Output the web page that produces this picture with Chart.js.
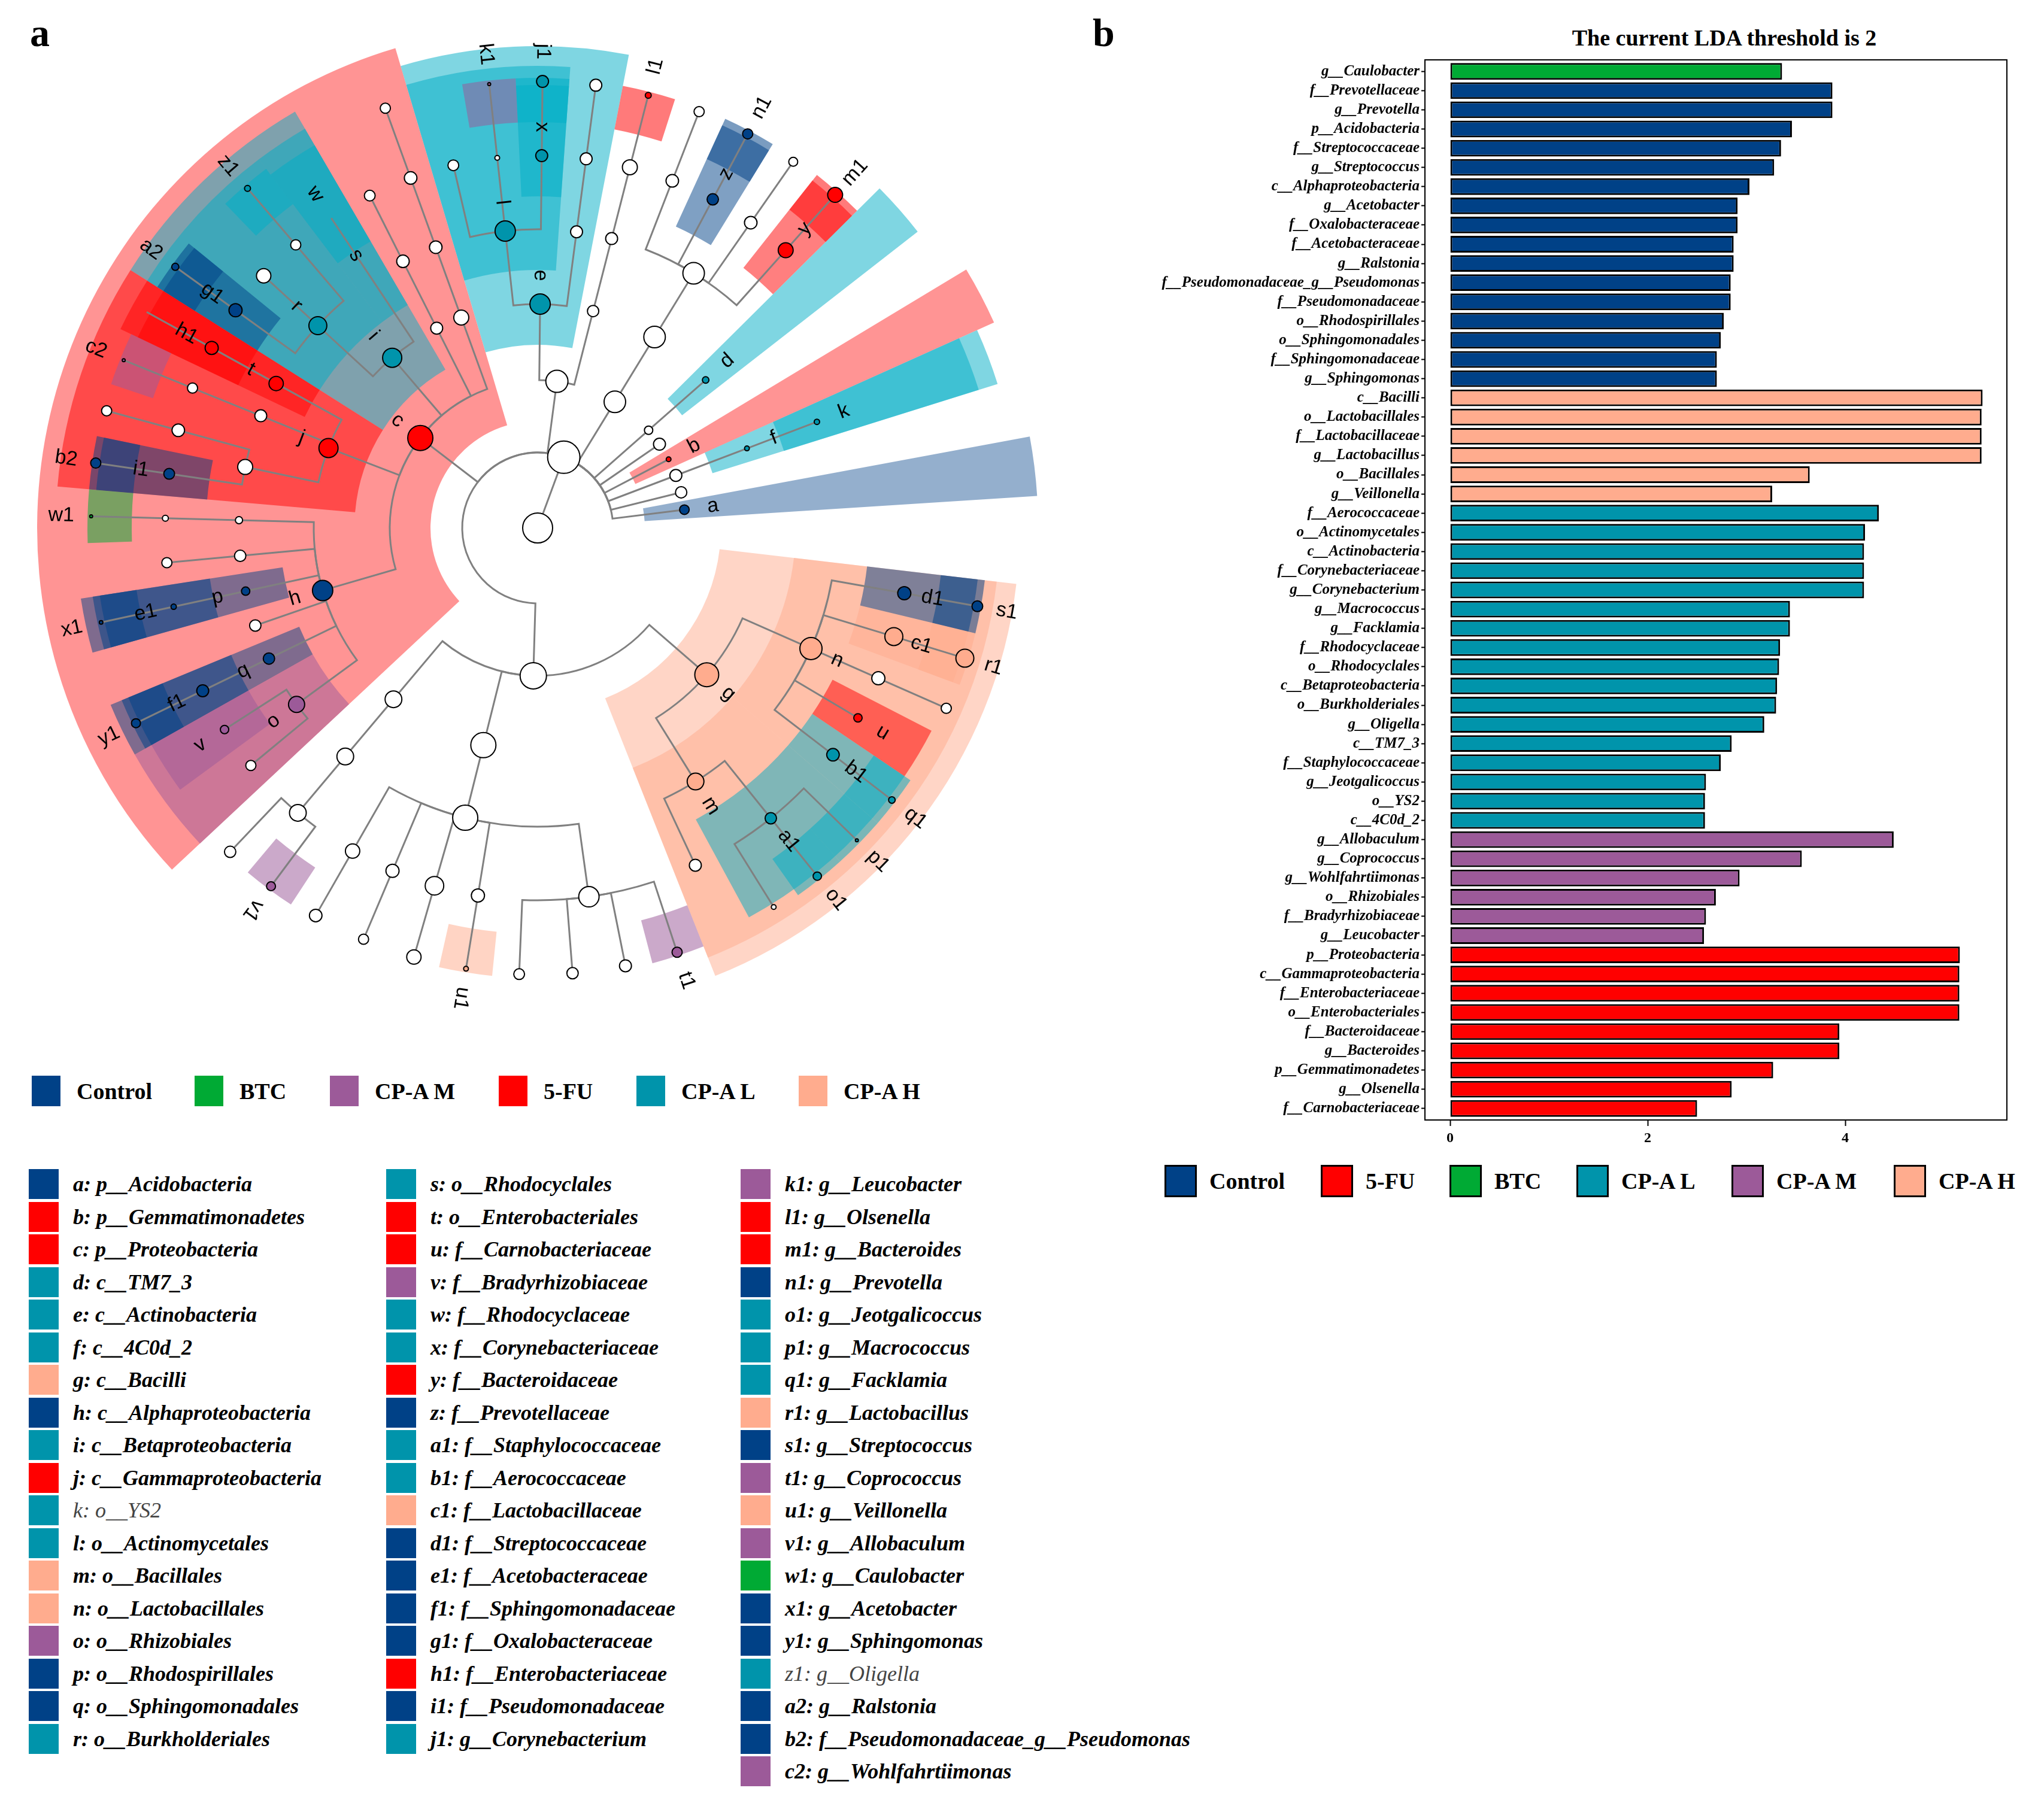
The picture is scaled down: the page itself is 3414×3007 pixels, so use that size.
<!DOCTYPE html>
<html lang="en">
<head>
<meta charset="UTF-8">
<title>LEfSe cladogram and LDA scores</title>
<script src="https://cdn.jsdelivr.net/npm/chart.js"></script>
<style>
  body { margin: 0; background: #fff; }
  #page { position: relative; width: 3414px; height: 3007px; background: #fff; overflow: hidden;
          font-family: "Liberation Serif", "Times New Roman", serif; color: #000; }
  .abs { position: absolute; white-space: nowrap; }
  .panel { font-weight: bold; font-size: 66px; line-height: 66px; }
  .grp { font-weight: bold; font-size: 38px; line-height: 50px; height: 50px; }
  .tx { font-weight: bold; font-style: italic; font-size: 36px; line-height: 50px; height: 50px; }
  .tx.light { font-weight: normal; color: #444; }
</style>
<script>
// groups and their colours
const groupNames = ['Control', 'BTC', 'CP-A M', '5-FU', 'CP-A L', 'CP-A H'];
const groupColors = ['#004187', '#00AA34', '#9C5A99', '#FF0000', '#0094AB', '#FFAC8E'];
const shadeColors = ['#004187', '#00AA34', '#9C5A99', '#FF0000', '#00AEC6', '#FFAC8E'];
const ldaLegendOrder = ['Control', '5-FU', 'BTC', 'CP-A L', 'CP-A M', 'CP-A H'];

// panel b: LDA scores
const ldaLabels = ['g__Caulobacter', 'f__Prevotellaceae', 'g__Prevotella', 'p__Acidobacteria',
  'f__Streptococcaceae', 'g__Streptococcus', 'c__Alphaproteobacteria', 'g__Acetobacter',
  'f__Oxalobacteraceae', 'f__Acetobacteraceae', 'g__Ralstonia', 'f__Pseudomonadaceae_g__Pseudomonas',
  'f__Pseudomonadaceae', 'o__Rhodospirillales', 'o__Sphingomonadales', 'f__Sphingomonadaceae',
  'g__Sphingomonas', 'c__Bacilli', 'o__Lactobacillales', 'f__Lactobacillaceae', 'g__Lactobacillus',
  'o__Bacillales', 'g__Veillonella', 'f__Aerococcaceae', 'o__Actinomycetales', 'c__Actinobacteria',
  'f__Corynebacteriaceae', 'g__Corynebacterium', 'g__Macrococcus', 'g__Facklamia', 'f__Rhodocyclaceae',
  'o__Rhodocyclales', 'c__Betaproteobacteria', 'o__Burkholderiales', 'g__Oligella', 'c__TM7_3',
  'f__Staphylococcaceae', 'g__Jeotgalicoccus', 'o__YS2', 'c__4C0d_2', 'g__Allobaculum', 'g__Coprococcus',
  'g__Wohlfahrtiimonas', 'o__Rhizobiales', 'f__Bradyrhizobiaceae', 'g__Leucobacter', 'p__Proteobacteria',
  'c__Gammaproteobacteria', 'f__Enterobacteriaceae', 'o__Enterobacteriales', 'f__Bacteroidaceae',
  'g__Bacteroides', 'p__Gemmatimonadetes', 'g__Olsenella', 'f__Carnobacteriaceae'];
const ldaValues = [3.36, 3.87, 3.87, 3.46, 3.35, 3.28, 3.03, 2.91, 2.91, 2.87, 2.87, 2.84, 2.84, 2.77,
  2.74, 2.70, 2.70, 5.39, 5.38, 5.38, 5.38, 3.64, 3.26, 4.34, 4.20, 4.19, 4.19, 4.19, 3.44, 3.44, 3.34,
  3.33, 3.31, 3.30, 3.18, 2.85, 2.74, 2.59, 2.58, 2.58, 4.49, 3.56, 2.93, 2.69, 2.59, 2.57, 5.16, 5.155,
  5.155, 5.155, 3.94, 3.94, 3.27, 2.85, 2.50];
const ldaGroups = ['BTC',
  'Control', 'Control', 'Control', 'Control', 'Control', 'Control', 'Control', 'Control',
  'Control', 'Control', 'Control', 'Control', 'Control', 'Control', 'Control', 'Control',
  'CP-A H', 'CP-A H', 'CP-A H', 'CP-A H', 'CP-A H', 'CP-A H',
  'CP-A L', 'CP-A L', 'CP-A L', 'CP-A L', 'CP-A L', 'CP-A L', 'CP-A L', 'CP-A L', 'CP-A L',
  'CP-A L', 'CP-A L', 'CP-A L', 'CP-A L', 'CP-A L', 'CP-A L', 'CP-A L', 'CP-A L',
  'CP-A M', 'CP-A M', 'CP-A M', 'CP-A M', 'CP-A M', 'CP-A M',
  '5-FU', '5-FU', '5-FU', '5-FU', '5-FU', '5-FU', '5-FU', '5-FU', '5-FU'];
const ldaTicks = [0, 2, 4];

// panel a: taxonomy tree [name, parent, letter, group, abundance]
const cladeNodes = [
  ['root', null, '', '', 25],
  ['k__Bacteria', 'root', '', '', 27],
  ['p__Acidobacteria', 'k__Bacteria', 'a', 'Control', 8],
  ['p__other14', 'k__Bacteria', '', '', 9.5],
  ['p__Cyanobacteria', 'k__Bacteria', '', '', 10],
  ['c__4C0d_2', 'p__Cyanobacteria', 'f', 'CP-A L', 4],
  ['o__YS2', 'c__4C0d_2', 'k', 'CP-A L', 4.5],
  ['p__Gemmatimonadetes', 'k__Bacteria', 'b', '5-FU', 4],
  ['p__other35', 'k__Bacteria', '', '', 10],
  ['p__TM7', 'k__Bacteria', '', '', 7],
  ['c__TM7_3', 'p__TM7', 'd', 'CP-A L', 5.5],
  ['p__Bacteroidetes', 'k__Bacteria', '', '', 18],
  ['c__Bacteroidia', 'p__Bacteroidetes', '', '', 18],
  ['o__Bacteroidales', 'c__Bacteroidia', '', '', 18],
  ['f__Bacteroidaceae', 'o__Bacteroidales', 'y', '5-FU', 12.5],
  ['g__Bacteroides', 'f__Bacteroidaceae', 'm1', '5-FU', 12.5],
  ['f__other55', 'o__Bacteroidales', '', '', 10.5],
  ['g__other55', 'f__other55', '', '', 7.5],
  ['f__Prevotellaceae', 'o__Bacteroidales', 'z', 'Control', 9.5],
  ['g__Prevotella', 'f__Prevotellaceae', 'n1', 'Control', 8.5],
  ['f__other69', 'o__Bacteroidales', '', '', 10.5],
  ['g__other69', 'f__other69', '', '', 8.5],
  ['p__Actinobacteria', 'k__Bacteria', '', '', 18.5],
  ['c__Coriobacteriia', 'p__Actinobacteria', '', '', 9.5],
  ['o__Coriobacteriales', 'c__Coriobacteriia', '', '', 10],
  ['f__Coriobacteriaceae', 'o__Coriobacteriales', '', '', 12.5],
  ['g__Olsenella', 'f__Coriobacteriaceae', 'l1', '5-FU', 5],
  ['c__Actinobacteria', 'p__Actinobacteria', 'e', 'CP-A L', 17],
  ['o__other83', 'c__Actinobacteria', '', '', 10],
  ['f__other83', 'o__other83', '', '', 10],
  ['g__other83', 'f__other83', '', '', 10],
  ['o__Actinomycetales', 'c__Actinobacteria', 'l', 'CP-A L', 17],
  ['f__Corynebacteriaceae', 'o__Actinomycetales', 'x', 'CP-A L', 10],
  ['g__Corynebacterium', 'f__Corynebacteriaceae', 'j1', 'CP-A L', 10],
  ['f__Microbacteriaceae', 'o__Actinomycetales', '', '', 4],
  ['g__Leucobacter', 'f__Microbacteriaceae', 'k1', 'CP-A M', 2.5],
  ['f__other103', 'o__Actinomycetales', '', '', 9],
  ['p__Proteobacteria', 'k__Bacteria', 'c', '5-FU', 21],
  ['c__other110', 'p__Proteobacteria', '', '', 12.5],
  ['o__other110', 'c__other110', '', '', 10.5],
  ['f__other110', 'o__other110', '', '', 10.5],
  ['g__other110', 'f__other110', '', '', 8.5],
  ['c__other117', 'p__Proteobacteria', '', '', 10],
  ['o__other117', 'c__other117', '', '', 10.5],
  ['f__other117', 'o__other117', '', '', 9],
  ['c__Betaproteobacteria', 'p__Proteobacteria', 'i', 'CP-A L', 16],
  ['o__Rhodocyclales', 'c__Betaproteobacteria', 's', 'CP-A L', 0],
  ['f__Rhodocyclaceae', 'o__Rhodocyclales', 'w', 'CP-A L', 0],
  ['o__Burkholderiales', 'c__Betaproteobacteria', 'r', 'CP-A L', 15],
  ['f__Alcaligenaceae', 'o__Burkholderiales', '', '', 8.5],
  ['g__Oligella', 'f__Alcaligenaceae', 'z1', 'CP-A L', 5],
  ['f__other137', 'o__Burkholderiales', '', '', 12],
  ['f__Oxalobacteraceae', 'o__Burkholderiales', 'g1', 'Control', 11],
  ['g__Ralstonia', 'f__Oxalobacteraceae', 'a2', 'Control', 6],
  ['c__Gammaproteobacteria', 'p__Proteobacteria', 'j', '5-FU', 16],
  ['o__Enterobacteriales', 'c__Gammaproteobacteria', 't', '5-FU', 12],
  ['f__Enterobacteriaceae', 'o__Enterobacteriales', 'h1', '5-FU', 11],
  ['g__other151', 'f__Enterobacteriaceae', '', '', 0],
  ['o__Cardiobacteriales', 'c__Gammaproteobacteria', '', '', 10],
  ['f__Wohlfahrtiimonadaceae', 'o__Cardiobacteriales', '', '', 8.5],
  ['g__Wohlfahrtiimonas', 'f__Wohlfahrtiimonadaceae', 'c2', 'CP-A M', 2.5],
  ['o__Pseudomonadales', 'c__Gammaproteobacteria', '', '', 12.5],
  ['f__Moraxellaceae', 'o__Pseudomonadales', '', '', 10.5],
  ['g__other165', 'f__Moraxellaceae', '', '', 8.5],
  ['f__Pseudomonadaceae', 'o__Pseudomonadales', 'i1', 'Control', 9],
  ['f__Pseudomonadaceae_g__Pseudomonas', 'f__Pseudomonadaceae', 'b2', 'Control', 8.5],
  ['c__Alphaproteobacteria', 'p__Proteobacteria', 'h', 'Control', 17],
  ['o__Caulobacterales', 'c__Alphaproteobacteria', '', '', 6],
  ['f__Caulobacteraceae', 'o__Caulobacterales', '', '', 5],
  ['g__Caulobacter', 'f__Caulobacteraceae', 'w1', 'BTC', 2.5],
  ['o__other185', 'c__Alphaproteobacteria', '', '', 9.5],
  ['f__other185', 'o__other185', '', '', 8.5],
  ['o__Rhodospirillales', 'c__Alphaproteobacteria', 'p', 'Control', 7],
  ['f__Acetobacteraceae', 'o__Rhodospirillales', 'e1', 'Control', 4.5],
  ['g__Acetobacter', 'f__Acetobacteraceae', 'x1', 'Control', 3],
  ['o__other199', 'c__Alphaproteobacteria', '', '', 9.5],
  ['o__Sphingomonadales', 'c__Alphaproteobacteria', 'q', 'Control', 9.5],
  ['f__Sphingomonadaceae', 'o__Sphingomonadales', 'f1', 'Control', 10],
  ['g__Sphingomonas', 'f__Sphingomonadaceae', 'y1', 'Control', 7.5],
  ['o__Rhizobiales', 'c__Alphaproteobacteria', 'o', 'CP-A M', 13.5],
  ['f__Bradyrhizobiaceae', 'o__Rhizobiales', 'v', 'CP-A M', 7],
  ['f__other219', 'o__Rhizobiales', '', '', 8.5],
  ['p__Firmicutes', 'k__Bacteria', '', '', 22],
  ['c__Erysipelotrichi', 'p__Firmicutes', '', '', 14],
  ['o__Erysipelotrichales', 'c__Erysipelotrichi', '', '', 14],
  ['f__Erysipelotrichaceae', 'o__Erysipelotrichales', '', '', 14],
  ['g__other226', 'f__Erysipelotrichaceae', '', '', 9.5],
  ['g__Allobaculum', 'f__Erysipelotrichaceae', 'v1', 'CP-A M', 7.5],
  ['c__Clostridia', 'p__Firmicutes', '', '', 21],
  ['o__Clostridiales', 'c__Clostridia', '', '', 21],
  ['f__other240', 'o__Clostridiales', '', '', 12],
  ['g__other240', 'f__other240', '', '', 10.5],
  ['f__other247', 'o__Clostridiales', '', '', 11],
  ['g__other247', 'f__other247', '', '', 8.5],
  ['f__other254', 'o__Clostridiales', '', '', 15.5],
  ['g__other254', 'f__other254', '', '', 12],
  ['f__Veillonellaceae', 'o__Clostridiales', '', '', 11],
  ['g__Veillonella', 'f__Veillonellaceae', 'u1', 'CP-A H', 4],
  ['f__Lachnospiraceae', 'o__Clostridiales', '', '', 17],
  ['g__other268', 'f__Lachnospiraceae', '', '', 9],
  ['g__other274', 'f__Lachnospiraceae', '', '', 9.5],
  ['g__other281', 'f__Lachnospiraceae', '', '', 10],
  ['g__Coprococcus', 'f__Lachnospiraceae', 't1', 'CP-A M', 8.5],
  ['c__Bacilli', 'p__Firmicutes', 'g', 'CP-A H', 20],
  ['o__Bacillales', 'c__Bacilli', 'm', 'CP-A H', 14],
  ['f__other295', 'o__Bacillales', '', '', 10],
  ['f__Staphylococcaceae', 'o__Bacillales', 'a1', 'CP-A L', 9.5],
  ['g__other302', 'f__Staphylococcaceae', '', '', 4],
  ['g__Jeotgalicoccus', 'f__Staphylococcaceae', 'o1', 'CP-A L', 7],
  ['g__Macrococcus', 'f__Staphylococcaceae', 'p1', 'CP-A L', 2.5],
  ['o__Lactobacillales', 'c__Bacilli', 'n', 'CP-A H', 18.5],
  ['f__Aerococcaceae', 'o__Lactobacillales', 'b1', 'CP-A L', 10.5],
  ['g__Facklamia', 'f__Aerococcaceae', 'q1', 'CP-A L', 5.5],
  ['f__Carnobacteriaceae', 'o__Lactobacillales', 'u', '5-FU', 7],
  ['f__other336', 'o__Lactobacillales', '', '', 11],
  ['g__other336', 'f__other336', '', '', 8.5],
  ['f__Lactobacillaceae', 'o__Lactobacillales', 'c1', 'CP-A H', 15],
  ['g__Lactobacillus', 'f__Lactobacillaceae', 'r1', 'CP-A H', 15],
  ['f__Streptococcaceae', 'o__Lactobacillales', 'd1', 'Control', 11],
  ['g__Streptococcus', 'f__Streptococcaceae', 's1', 'Control', 9]
];
const cladesWithoutShade = ['c__Alphaproteobacteria'];
const lightLegendEntries = ['k', 'z1'];
</script>
</head>
<body>
<div id="page">
  <div class="abs panel" style="left:50px; top:22px;">a</div>
  <div class="abs panel" style="left:1825px; top:22px;">b</div>
  <div class="abs" style="left:2530px; top:44px; width:700px; text-align:center; font-weight:bold; font-size:38px; line-height:38px;">The current LDA threshold is 2</div>
  <div class="abs" style="left:0; top:0; width:1800px; height:1760px;"><canvas id="clado" width="1800" height="1760"></canvas></div>
  <div class="abs" style="left:1900px; top:82px; width:1472px; height:1859px;"><canvas id="lda" width="1472" height="1859"></canvas></div>
  <div id="legends"></div>
</div>
<script>
  function colorOf(g) { return groupColors[groupNames.indexOf(g)]; }
  function shadeOf(g) { return shadeColors[groupNames.indexOf(g)]; }
  function rgba(hex, a) {
    const n = parseInt(hex.slice(1), 16);
    return 'rgba(' + (n >> 16) + ',' + ((n >> 8) & 255) + ',' + (n & 255) + ',' + a + ')';
  }

  // ---------- cladogram layout ----------
  const ringRadius = [0, 126, 247, 374, 499, 622, 746];
  const shadeOuter = [0, 0, 836, 805, 772, 740, 752];
  const shadeAlpha = [0, 0, 0.42, 0.5, 0.5, 0.5, 0.52];
  const startAngle = 7.1, leafStep = 6.856;
  const byName = {};
  cladeNodes.forEach(([name, parent, letter, group, size]) => {
    byName[name] = { name, parent, letter, group, size, children: [] };
  });
  const nodes = cladeNodes.map(n => byName[n[0]]);
  nodes.forEach(n => { if (n.parent) byName[n.parent].children.push(n); });
  let leafNo = 0;
  function layout(n, depth) {
    n.depth = depth;
    n.r = ringRadius[depth];
    if (!n.children.length) {
      n.angle = startAngle + leafNo * leafStep;
      leafNo++;
      n.lo = n.hi = n.angle;
    } else {
      n.children.forEach(c => layout(c, depth + 1));
      n.angle = n.children.reduce((s, c) => s + c.angle, 0) / n.children.length;
      n.lo = Math.min(...n.children.map(c => c.lo));
      n.hi = Math.max(...n.children.map(c => c.hi));
    }
  }
  layout(nodes[0], 0);
  const rad = d => d * Math.PI / 180;

  const cladePlugin = {
    id: 'clade',
    beforeDatasetsDraw(chart) {
      const ctx = chart.ctx, xs = chart.scales.x, ys = chart.scales.y;
      const cx = xs.getPixelForValue(0), cy = ys.getPixelForValue(0);
      const k = xs.getPixelForValue(100) - cx;
      const px = v => v * k / 100;
      ctx.save();
      // shaded clades
      const shaded = nodes.filter(n => n.group && n.letter && !cladesWithoutShade.includes(n.name))
        .sort((a, b) => a.depth - b.depth);
      shaded.forEach(n => {
        const a1 = rad(n.lo - leafStep / 2), a2 = rad(n.hi + leafStep / 2);
        const rin = px(n.r - 68), rout = px(shadeOuter[n.depth]);
        ctx.beginPath();
        ctx.arc(cx, cy, rout, -a1, -a2, true);
        ctx.arc(cx, cy, rin, -a2, -a1, false);
        ctx.closePath();
        ctx.fillStyle = rgba(shadeOf(n.group), shadeAlpha[n.depth]);
        ctx.fill();
      });
      // branches
      ctx.strokeStyle = '#808080';
      ctx.lineWidth = 3;
      nodes.forEach(n => {
        if (!n.parent) return;
        const p = byName[n.parent];
        const rp = px(p.r), rn = px(n.r), a = rad(n.angle), ap = rad(p.angle);
        ctx.beginPath();
        if (rp > 0) {
          ctx.arc(cx, cy, rp, -ap, -a, n.angle > p.angle);
        } else {
          ctx.moveTo(cx, cy);
        }
        ctx.lineTo(cx + rn * Math.cos(a), cy - rn * Math.sin(a));
        ctx.stroke();
      });
      ctx.restore();
    },
    afterDatasetsDraw(chart) {
      const ctx = chart.ctx, xs = chart.scales.x, ys = chart.scales.y;
      const cx = xs.getPixelForValue(0), cy = ys.getPixelForValue(0);
      const k = (xs.getPixelForValue(100) - cx) / 100;
      ctx.save();
      ctx.fillStyle = '#000';
      ctx.font = '34px "Liberation Sans", Arial, sans-serif';
      ctx.textAlign = 'center';
      ctx.textBaseline = 'middle';
      nodes.filter(n => n.letter).forEach(n => {
        const rl = (n.r + (n.depth === 6 ? 50 : 48)) * k;
        const a = rad(n.angle);
        let rot = -a;
        if (n.angle > 88 && n.angle < 230) rot += Math.PI;
        ctx.save();
        ctx.translate(cx + rl * Math.cos(a), cy - rl * Math.sin(a));
        ctx.rotate(rot);
        ctx.fillText(n.letter, 0, 0);
        ctx.restore();
      });
      ctx.restore();
    }
  };

  new Chart(document.getElementById('clado'), {
    type: 'scatter',
    data: {
      datasets: [{
        data: nodes.map(n => ({ x: n.r * Math.cos(rad(n.angle)), y: n.r * Math.sin(rad(n.angle)) })),
        pointRadius: nodes.map(n => n.size),
        pointBackgroundColor: nodes.map(n => n.group ? colorOf(n.group) : '#ffffff'),
        pointBorderColor: '#000',
        pointBorderWidth: nodes.map(n => n.size > 0 ? 2 : 0),
        clip: false
      }]
    },
    options: {
      responsive: false, animation: false, events: [],
      layout: { padding: 0, autoPadding: false },
      plugins: { legend: { display: false }, tooltip: { enabled: false } },
      scales: {
        x: { type: 'linear', display: false, min: -898, max: 902 },
        y: { type: 'linear', display: false, min: -878, max: 882 }
      }
    },
    plugins: [cladePlugin]
  });

  // ---------- LDA bar chart ----------
  const framePlugin = {
    id: 'frame',
    afterDraw(chart) {
      const { ctx, chartArea: a } = chart;
      ctx.save();
      ctx.strokeStyle = '#000';
      ctx.lineWidth = 2;
      ctx.strokeRect(a.left, a.top, a.right - a.left, a.bottom - a.top);
      ctx.restore();
    }
  };
  new Chart(document.getElementById('lda'), {
    type: 'bar',
    data: {
      datasets: [{
        data: ldaValues.map((v, i) => ({ x: v, y: i })),
        backgroundColor: ldaGroups.map(colorOf),
        borderColor: '#000',
        borderWidth: 3,
        borderSkipped: false,
        barPercentage: 0.87,
        categoryPercentage: 1
      }]
    },
    options: {
      indexAxis: 'y',
      responsive: false, animation: false, events: [],
      layout: { padding: { top: 15, right: 20, left: 0, bottom: 0 } },
      plugins: { legend: { display: false }, tooltip: { enabled: false } },
      scales: {
        y: {
          type: 'linear', reverse: true, min: -0.6, max: 54.6, offset: false,
          afterBuildTicks: ax => { ax.ticks = ldaLabels.map((_, i) => ({ value: i })); },
          afterFit: ax => { ax.width = 480; },
          ticks: {
            autoSkip: false, color: '#000', padding: 3,
            callback: v => ldaLabels[v],
            font: { family: '"Liberation Serif", "Times New Roman", serif', size: 25, weight: 'bold', style: 'italic' }
          },
          grid: { offset: false, drawOnChartArea: false, drawTicks: true, tickLength: 6, tickColor: '#000', tickWidth: 2, color: '#000' },
          border: { display: true, color: '#000', width: 2 }
        },
        x: {
          type: 'linear', min: -0.255, max: 5.636,
          afterBuildTicks: ax => { ax.ticks = ldaTicks.map(v => ({ value: v })); },
          afterFit: ax => { ax.height = 70; },
          ticks: {
            color: '#000', padding: 6,
            font: { family: '"Liberation Serif", "Times New Roman", serif', size: 24, weight: 'bold' }
          },
          grid: { drawOnChartArea: false, drawTicks: true, tickLength: 10, tickColor: '#000', tickWidth: 2, color: '#000' },
          border: { display: true, color: '#000', width: 2 }
        }
      }
    },
    plugins: [framePlugin]
  });

  // ---------- legends ----------
  const legendsEl = document.getElementById('legends');
  function addSwatch(x, y, w, h, color, border) {
    const d = document.createElement('div');
    d.className = 'abs';
    d.style.cssText = 'left:' + x + 'px;top:' + y + 'px;width:' + w + 'px;height:' + h + 'px;background:' + color +
      ';box-sizing:border-box;' + (border ? 'border:3px solid #000;' : '');
    legendsEl.appendChild(d);
  }
  function addText(x, yc, text, cls) {
    const d = document.createElement('div');
    d.className = 'abs ' + cls;
    d.style.left = x + 'px';
    d.style.top = (yc - 25) + 'px';
    d.textContent = text;
    legendsEl.appendChild(d);
  }
  // panel a group legend
  const legAx = [53, 325, 551, 833, 1063, 1334];
  groupNames.forEach((g, i) => {
    addSwatch(legAx[i], 1797, 48, 51, colorOf(g), false);
    addText(legAx[i] + 75, 1823, g, 'grp');
  });
  // panel b group legend
  const legBx = [1945, 2206, 2421, 2633, 2892, 3163];
  ldaLegendOrder.forEach((g, i) => {
    addSwatch(legBx[i], 1946, 54, 54, colorOf(g), true);
    addText(legBx[i] + 75, 1973, g, 'grp');
  });
  // taxa legend
  const letterKey = l => (l.length > 1 ? +l.slice(1) : 0) * 26 + (l.charCodeAt(0) - 97);
  const entries = nodes.filter(n => n.letter).sort((a, b) => letterKey(a.letter) - letterKey(b.letter));
  const colX = [48, 645, 1237], colStart = [0, 18, 36];
  entries.forEach((n, i) => {
    const col = i < 18 ? 0 : (i < 36 ? 1 : 2);
    const row = i - colStart[col];
    const yc = 1978 + row * 54.5;
    addSwatch(colX[col], yc - 25, 50, 50, colorOf(n.group), false);
    addText(colX[col] + 74, yc, n.letter + ': ' + n.name, 'tx' + (lightLegendEntries.includes(n.letter) ? ' light' : ''));
  });
</script>
</body>
</html>
